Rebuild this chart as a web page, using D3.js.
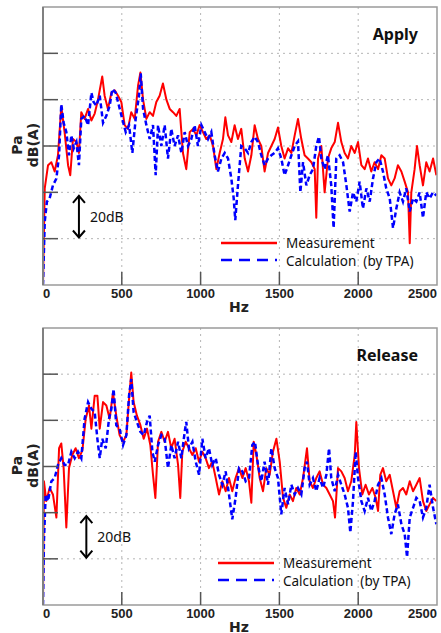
<!DOCTYPE html>
<html>
<head>
<meta charset="utf-8">
<script src="https://cdn.jsdelivr.net/npm/d3@7.9.0/dist/d3.min.js"></script>
<style>
  body { margin: 0; background: #fff; }
  svg { display: block; }
  .tick-label { font-family: "Liberation Sans", Arial, sans-serif; font-weight: bold; font-size: 13px; fill: #222; }
  .axis-title { font-family: "DejaVu Sans", Verdana, sans-serif; font-weight: bold; font-size: 14px; fill: #222; }
  .legend-text, .note { font-family: "Noto Sans", sans-serif; font-size: 13.5px; fill: #111; white-space: pre; }
  .note { font-size: 14px; }
  .panel-title { font-family: "Noto Sans", sans-serif; font-weight: bold; font-size: 16px; fill: #111; }
</style>
</head>
<body>
<div id="chart"></div>
<script>
// x tick labels (Hz) and horizontal grid levels (dB, 20 dB per division)
const hzTicks = [0, 500, 1000, 1500, 2000, 2500];
const dbGrid = [20, 40, 60, 80, 100];

// Apply: [Hz, dB(A)]
const applyMeas = [
  [0,0],[11,41.7],[32,51.7],[53,53],[74,49],[95,56],[116,77],[137,66],[159,51.7],[173,47.4],
  [190,63],[212,61.7],[228,57],[243,74.6],[264,71.7],[286,76],[307,71],[328,74],[349,80],[376,90],
  [391,81.7],[412,76],[434,83],[455,84],[476,81.7],[497,79],[518,69],[539,67.4],[560,74.6],[582,71.7],
  [603,86],[618,91.7],[635,80],[656,71.7],[677,74.6],[698,73],[719,79],[740,81.7],[761,87],[783,80],
  [804,76],[825,74.6],[846,73],[867,76],[888,57],[909,50],[931,66],[952,67.4],[973,64.6],[994,69],
  [1015,66],[1036,63],[1058,64.6],[1079,60],[1100,50],[1121,57],[1142,63],[1157,72.4],[1174,64.6],[1195,61.7],
  [1216,69],[1237,63],[1258,67.4],[1280,54.6],[1301,49],[1322,56],[1343,69],[1364,63],[1385,60],[1406,49],
  [1428,57],[1449,60],[1470,63],[1491,68],[1512,60],[1533,54.6],[1555,59],[1576,57],[1597,64.6],[1618,71.7],
  [1639,63],[1660,56],[1681,54.6],[1703,53],[1724,50],[1734,29],[1745,54.6],[1766,60],[1787,40],[1808,54.6],
  [1829,59],[1851,61.7],[1872,70],[1893,61.7],[1914,57],[1935,54.6],[1956,60],[1978,57],[1999,61.7],[2020,51.7],
  [2041,50],[2062,54.6],[2083,49],[2104,53],[2126,50],[2147,56],[2168,54.6],[2189,46],[2210,43],[2231,46],
  [2252,51.7],[2274,49],[2295,44.6],[2316,40],[2327,18],[2337,40],[2358,50],[2373,60],[2390,51.7],[2411,43],
  [2432,53],[2453,49],[2475,54.6],[2496,47.4]
];
const applyCalc = [
  [0,0],[11,27.4],[25,36],[42,37.4],[63,43],[85,46],[102,56],[116,78],[131,70],[148,66],
  [165,56],[180,64.6],[195,59],[212,61.7],[228,51.7],[243,71.7],[264,73],[286,69],[307,83],[321,79],
  [338,77.4],[360,81.7],[381,70],[402,73],[423,77.4],[440,84.6],[461,83],[482,77.4],[503,71.7],[525,66],
  [546,69],[567,57],[588,71.7],[609,81.7],[620,91.4],[635,76],[656,69],[677,63],[698,69],[715,47.4],
  [730,69],[751,60],[772,69],[793,54.6],[814,67.4],[835,60],[857,64.6],[878,57],[899,66],[920,60],
  [941,63],[962,69],[983,60],[1005,69],[1026,66],[1047,63],[1068,66],[1089,56],[1110,49],[1132,54.6],
  [1153,57],[1174,54.6],[1195,46],[1210,37.4],[1220,28],[1237,43],[1258,60],[1280,59],[1301,57],[1322,61.7],
  [1343,64],[1364,61.7],[1385,56],[1406,51.7],[1428,54.6],[1449,56],[1470,57],[1491,59],[1512,54.6],[1533,47.4],
  [1555,51.7],[1576,56],[1597,60],[1618,62],[1633,40],[1650,53],[1671,43],[1692,47.4],[1713,50],[1734,60],
  [1751,64],[1766,54.6],[1787,50],[1808,56],[1829,43],[1844,24.6],[1861,54.6],[1882,56],[1904,53],[1925,43],
  [1946,31.7],[1967,40],[1988,36],[2009,44.6],[2030,33],[2052,41.7],[2073,36],[2094,46],[2115,53],[2136,54.6],
  [2157,49],[2178,41.7],[2200,37.4],[2221,24.6],[2242,33],[2263,40],[2284,36],[2305,41.7],[2327,31.7],[2348,37.4],
  [2369,36],[2390,40],[2411,29],[2432,40],[2453,37.4],[2475,40],[2496,38.6]
];

// Release: [Hz, dB(A)]
const releaseMeas = [
  [0,0],[6,53.6],[21,45],[42,50.7],[63,47.9],[85,37.9],[102,67.9],[116,70],[131,59.3],[148,33.6],
  [165,59.3],[186,65],[207,67.9],[228,63.6],[250,67],[271,80.7],[292,86.4],[307,76.4],[328,90.7],[345,90.7],
  [360,76.4],[381,87.9],[402,86.4],[423,80.7],[444,92],[465,82],[486,73.6],[508,70.7],[529,73.6],[546,89.3],
  [560,100.7],[575,87.9],[596,82],[618,77.9],[639,72],[660,76.4],[681,69.3],[698,56.4],[713,46.4],[730,70.7],
  [751,75],[772,70.7],[793,75],[814,67.9],[835,72],[857,60.7],[871,46.4],[884,66.4],[905,70.7],[926,67.9],
  [948,65],[969,67.9],[990,62.1],[1011,66.4],[1032,63.6],[1053,59.3],[1074,62.1],[1096,55],[1117,47.9],[1138,53.6],
  [1159,49.3],[1180,55],[1201,49.3],[1222,55],[1244,59.3],[1265,55],[1286,59.3],[1307,53.6],[1322,44.3],[1337,70.7],
  [1354,65],[1375,55],[1396,49.3],[1417,59.3],[1438,56.4],[1459,66.4],[1481,72],[1502,62.1],[1523,46.4],[1544,42.1],
  [1565,47.9],[1586,45],[1607,50.7],[1629,47.9],[1650,55],[1675,67.9],[1692,53.6],[1713,50.7],[1734,55],[1755,57.9],
  [1777,52.1],[1798,50.7],[1819,47.9],[1840,45],[1853,37.9],[1872,59.3],[1893,57.9],[1914,55],[1935,49.3],[1956,53.6],
  [1978,65],[1988,79.3],[2005,59.3],[2026,47.9],[2047,52.1],[2068,47.9],[2090,50.7],[2111,46.4],[2126,40.7],[2140,56.4],
  [2157,59.3],[2178,53.6],[2200,56.4],[2221,49.3],[2242,42.1],[2263,49.3],[2284,50.7],[2305,47.9],[2327,53.6],[2348,49.3],
  [2369,52.1],[2390,55],[2411,45],[2432,40.7],[2453,43.6],[2475,46.4],[2496,45]
];
const releaseCalc = [
  [0,0],[6,27.9],[17,47.9],[32,45],[53,53.6],[74,55],[95,60.7],[116,63.6],[137,60.7],[159,60.7],
  [180,66.4],[201,63.6],[222,66.4],[243,63.6],[264,80.7],[286,87.9],[307,85],[328,83.6],[345,72],[360,63.6],
  [376,72],[398,67.9],[419,80.7],[434,85],[448,93.6],[465,77.9],[486,76.4],[508,69.3],[529,73.6],[546,90.7],
  [560,97.9],[575,83.6],[596,79.3],[618,75],[639,73.6],[660,79.3],[677,82],[694,66.4],[709,62.1],[730,69.3],
  [751,73.6],[772,72],[793,59.3],[814,69.3],[835,63.6],[857,70.7],[878,63.6],[899,75],[909,79.3],[926,67.9],
  [948,70.7],[969,62.1],[990,56.4],[1011,72],[1032,63.6],[1053,67.9],[1074,60.7],[1096,63.6],[1117,56.4],[1138,52.1],
  [1159,57.9],[1180,47.9],[1201,37.1],[1222,46.4],[1244,59.3],[1265,57.9],[1286,53.6],[1307,55],[1328,69.3],[1345,70.7],
  [1364,60.7],[1385,53.6],[1406,62.1],[1428,52.1],[1449,67.9],[1470,59.3],[1491,55],[1512,39.3],[1533,50.7],[1555,43.6],
  [1576,52.1],[1597,47.9],[1618,50.7],[1639,47.9],[1660,59.3],[1675,62.1],[1692,52.1],[1713,55],[1734,49.3],[1755,55],
  [1777,50.7],[1798,56.4],[1815,67.9],[1829,55],[1851,49.3],[1872,56.4],[1893,52.1],[1914,47.9],[1935,42.1],[1950,31.4],
  [1967,45],[1984,66.4],[1999,55],[2020,45],[2041,40.7],[2062,46.4],[2083,40.7],[2104,45],[2126,52.1],[2147,55],
  [2168,47.9],[2189,37.9],[2210,30.7],[2231,39.3],[2252,43.6],[2274,35],[2295,30.7],[2310,20.7],[2327,37.9],[2348,42.1],
  [2369,46.4],[2390,45],[2411,37.9],[2432,42.1],[2453,52.1],[2475,42.1],[2496,35]
];

const width = 441, height = 633;
const left = 43, right = 437;

const panels = [
  { id: 'apply', title: 'Apply', top: 7, bottom: 285, meas: applyMeas, calc: applyCalc,
    arrowHz: 228, legendX: 221 },
  { id: 'release', title: 'Release', top: 328, bottom: 605, meas: releaseMeas, calc: releaseCalc,
    arrowHz: 275, legendX: 218 }
];

const svg = d3.select('#chart').append('svg')
  .attr('width', width)
  .attr('height', height);

const x = d3.scaleLinear().domain([0, 2500]).range([left, right]);

panels.forEach(p => {
  const y = d3.scaleLinear().domain([0, 120]).range([p.bottom, p.top]);
  const g = svg.append('g').attr('class', 'panel-' + p.id);

  // clip the spectra to the plot box
  g.append('clipPath').attr('id', 'clip-' + p.id)
    .append('rect')
    .attr('x', left).attr('y', p.top)
    .attr('width', right - left).attr('height', p.bottom - p.top);

  // dotted grid
  g.selectAll('line.hgrid').data(dbGrid).enter().append('line')
    .attr('class', 'hgrid')
    .attr('x1', left).attr('x2', right)
    .attr('y1', d => y(d)).attr('y2', d => y(d))
    .attr('stroke', '#b5b5b5').attr('stroke-width', 1)
    .attr('stroke-dasharray', '2,4');
  g.selectAll('line.vgrid').data(hzTicks.slice(1, -1)).enter().append('line')
    .attr('class', 'vgrid')
    .attr('x1', d => x(d)).attr('x2', d => x(d))
    .attr('y1', p.top).attr('y2', p.bottom)
    .attr('stroke', '#b5b5b5').attr('stroke-width', 1)
    .attr('stroke-dasharray', '2,4');

  // spectra
  const line = d3.line().x(d => x(d[0])).y(d => y(d[1]));
  const curves = g.append('g').attr('clip-path', `url(#clip-${p.id})`);
  curves.append('path').datum(p.meas)
    .attr('d', line)
    .attr('fill', 'none')
    .attr('stroke', '#ff0000')
    .attr('stroke-width', 2)
    .attr('stroke-linejoin', 'round');
  curves.append('path').datum(p.calc)
    .attr('d', line)
    .attr('fill', 'none')
    .attr('stroke', '#0000ff')
    .attr('stroke-width', 2.5)
    .attr('stroke-dasharray', '5,3');

  // frame
  g.append('rect')
    .attr('x', left).attr('y', p.top)
    .attr('width', right - left).attr('height', p.bottom - p.top)
    .attr('fill', 'none')
    .attr('stroke', '#9a9a9a').attr('stroke-width', 1.5);
  g.append('line')
    .attr('x1', left).attr('x2', left)
    .attr('y1', p.top).attr('y2', p.bottom)
    .attr('stroke', '#808080').attr('stroke-width', 2);

  // inner tick marks
  g.selectAll('line.ytick').data(dbGrid).enter().append('line')
    .attr('class', 'ytick')
    .attr('x1', left).attr('x2', left + 15)
    .attr('y1', d => y(d)).attr('y2', d => y(d))
    .attr('stroke', '#555').attr('stroke-width', 1.5);
  g.selectAll('line.xtick').data(hzTicks.slice(1, -1)).enter().append('line')
    .attr('class', 'xtick')
    .attr('x1', d => x(d)).attr('x2', d => x(d))
    .attr('y1', p.bottom).attr('y2', p.bottom - 13)
    .attr('stroke', '#555').attr('stroke-width', 1.5);

  // x tick labels
  g.selectAll('text.xl').data(hzTicks).enter().append('text')
    .attr('class', 'tick-label xl')
    .attr('x', d => x(d))
    .attr('y', p.bottom + 13)
    .attr('text-anchor', (d, i) => i === 0 ? 'start' : (i === hzTicks.length - 1 ? 'end' : 'middle'))
    .text(d => d);

  // axis titles
  g.append('text')
    .attr('class', 'axis-title')
    .attr('x', x(1250) - 1)
    .attr('y', p.bottom + 27)
    .attr('text-anchor', 'middle')
    .text('Hz');
  const ymid = (p.top + p.bottom) / 2 - 1;
  g.append('text')
    .attr('class', 'axis-title')
    .attr('transform', `translate(22,${ymid}) rotate(-90)`)
    .attr('text-anchor', 'middle')
    .text('Pa');
  g.append('text')
    .attr('class', 'axis-title')
    .attr('transform', `translate(38,${ymid}) rotate(-90)`)
    .attr('text-anchor', 'middle')
    .text('dB(A)');

  // panel title
  g.append('text')
    .attr('class', 'panel-title')
    .attr('x', 418)
    .attr('y', p.top + 33)
    .attr('text-anchor', 'end')
    .text(p.title);

  // 20 dB scale arrow
  const ax = x(p.arrowHz);
  const ya = y(38.5), yb = y(20.5);
  const arrow = g.append('g').attr('stroke', '#000').attr('stroke-width', 2).attr('fill', 'none');
  arrow.append('line').attr('x1', ax).attr('x2', ax).attr('y1', ya).attr('y2', yb);
  arrow.append('path').attr('d', `M${ax - 6},${ya + 7}L${ax},${ya}L${ax + 6},${ya + 7}`);
  arrow.append('path').attr('d', `M${ax - 6},${yb - 7}L${ax},${yb}L${ax + 6},${yb - 7}`);
  g.append('text')
    .attr('class', 'note')
    .attr('x', ax + 11)
    .attr('y', y(29.5) + 5)
    .text('20dB');

  // legend
  const lx = p.legendX;
  const ly = p.bottom - 42;
  g.append('line')
    .attr('x1', lx).attr('x2', lx + 56)
    .attr('y1', ly).attr('y2', ly)
    .attr('stroke', '#ff0000').attr('stroke-width', 2.5);
  g.append('text')
    .attr('class', 'legend-text')
    .attr('x', lx + 65).attr('y', ly + 5)
    .text('Measurement');
  g.append('line')
    .attr('x1', lx).attr('x2', lx + 56)
    .attr('y1', ly + 17).attr('y2', ly + 17)
    .attr('stroke', '#0000ff').attr('stroke-width', 2.5)
    .attr('stroke-dasharray', '11,7');
  g.append('text')
    .attr('class', 'legend-text')
    .attr('x', lx + 65).attr('y', ly + 22.5)
    .text('Calculation  (by TPA)');
});
</script>
</body>
</html>
